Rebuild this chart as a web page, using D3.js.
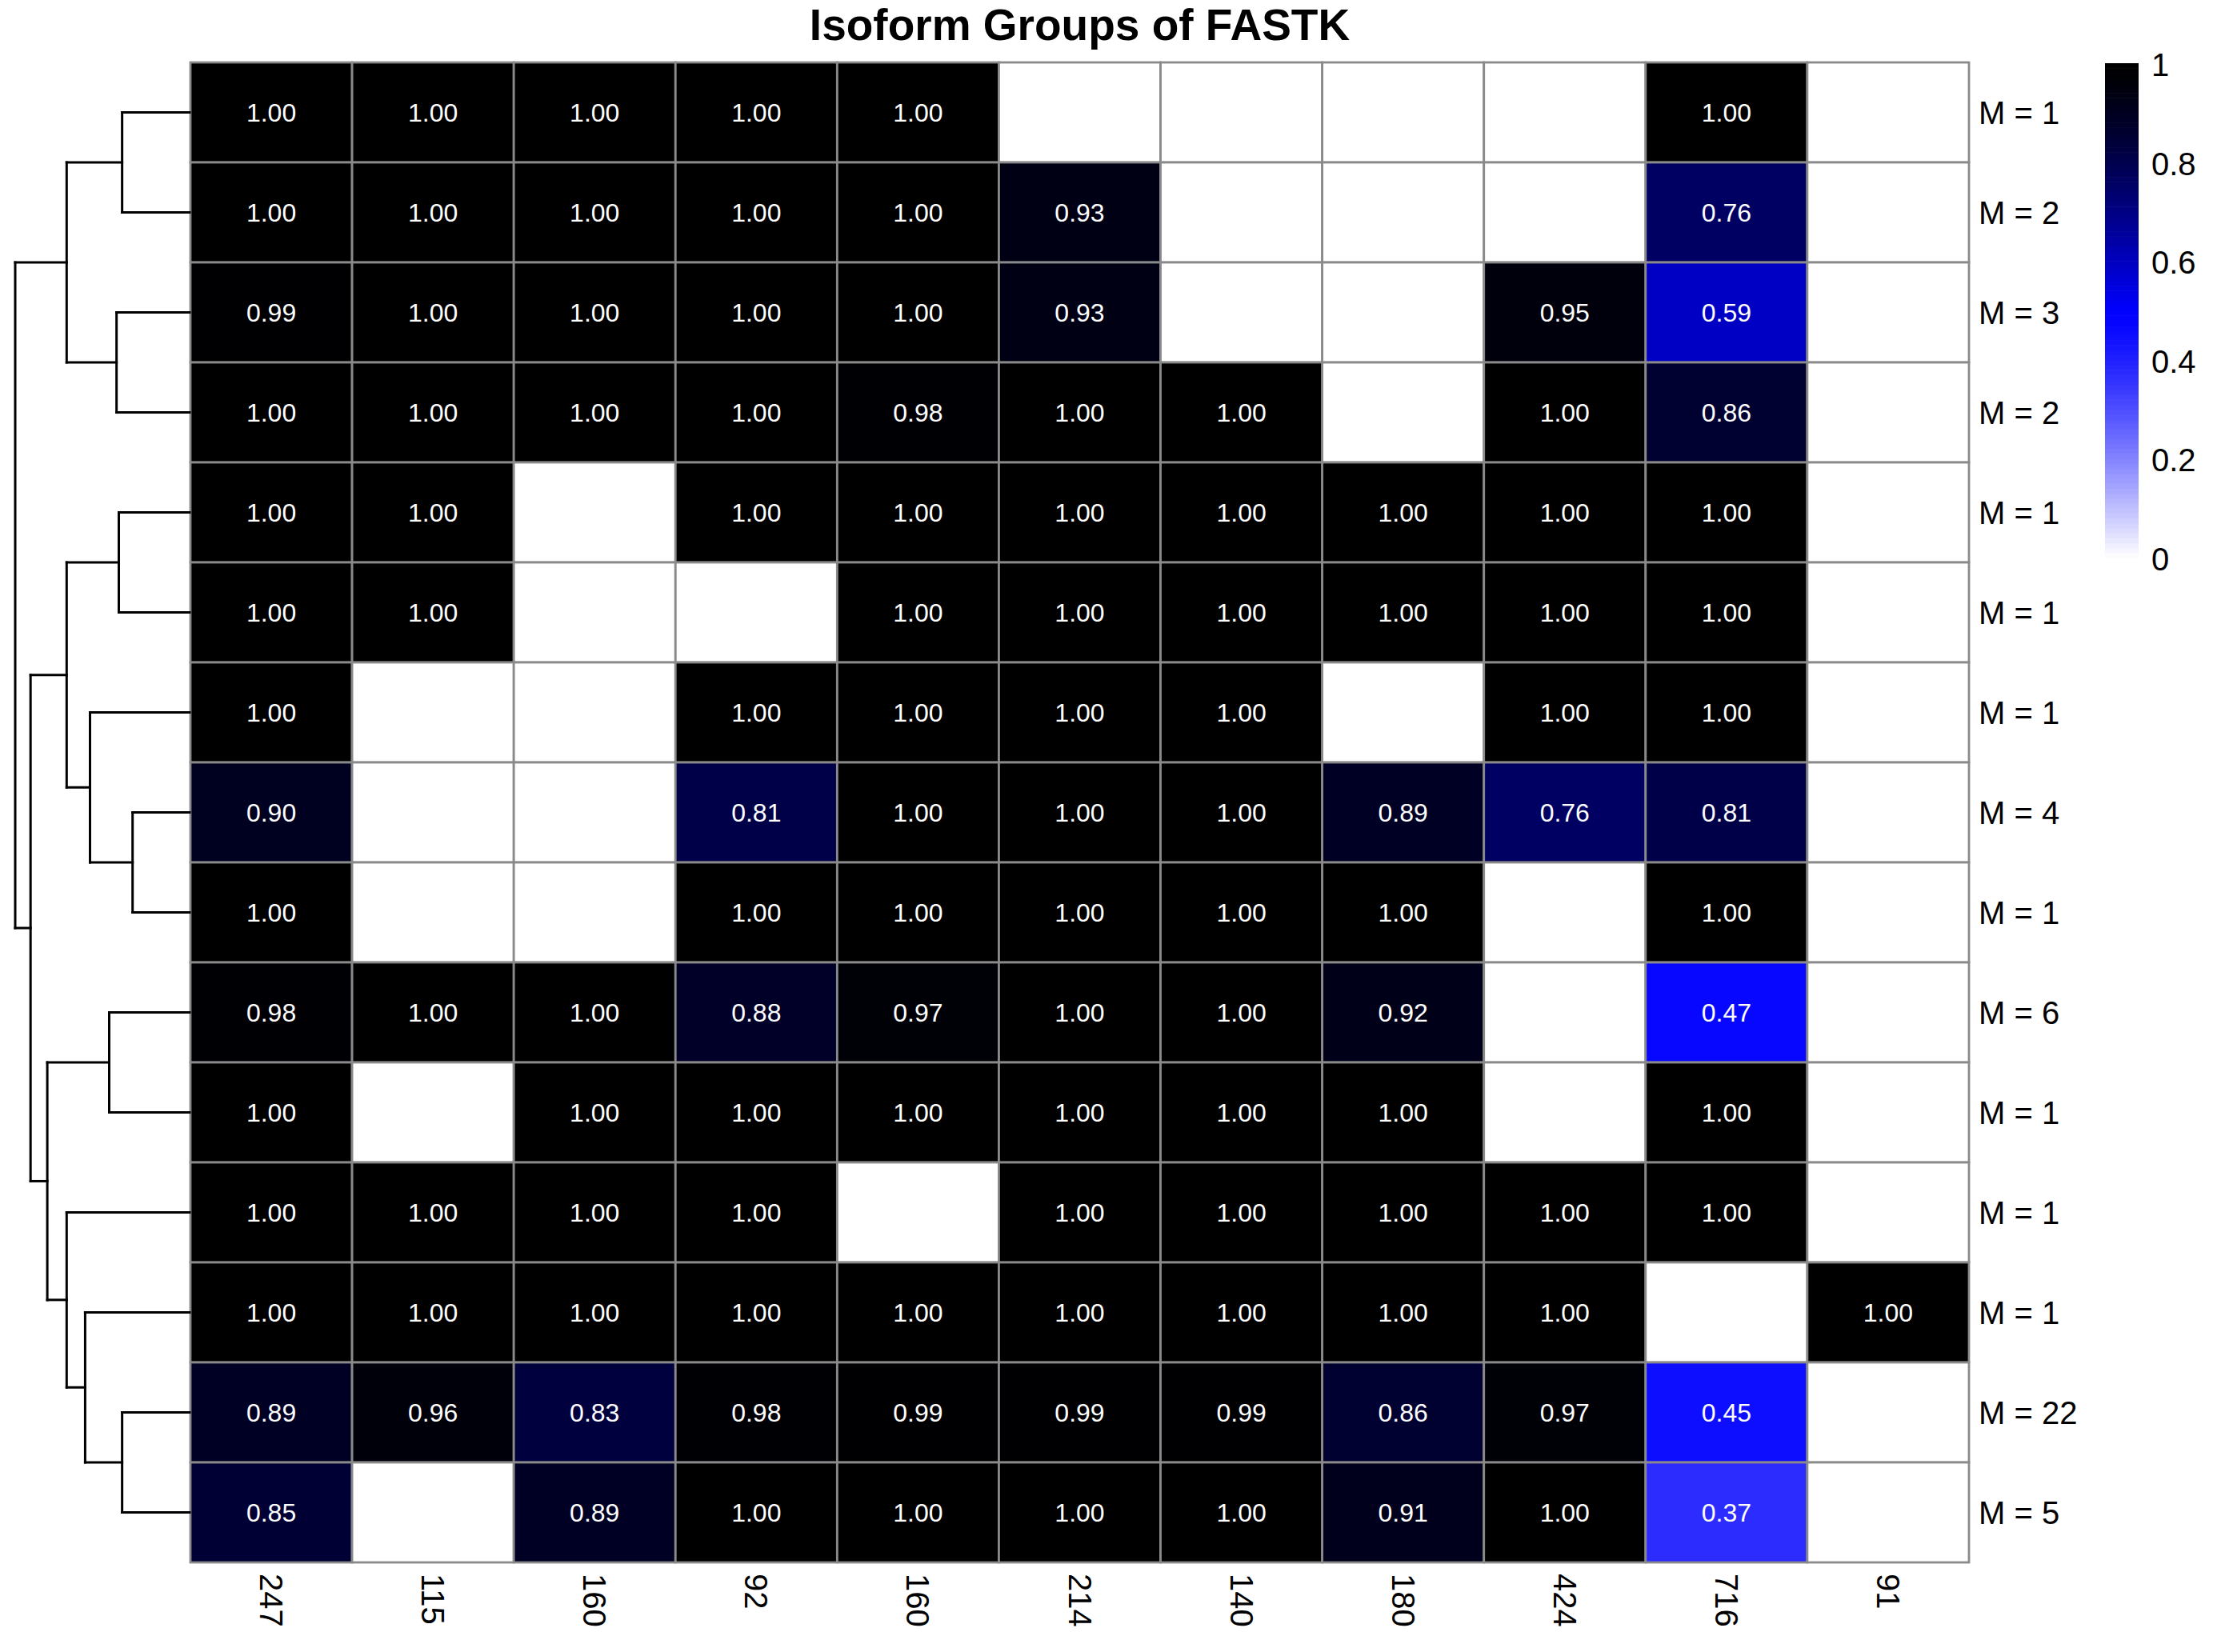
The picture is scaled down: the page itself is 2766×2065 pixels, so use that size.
<!DOCTYPE html>
<html>
<head>
<meta charset="utf-8">
<script src="https://cdn.jsdelivr.net/npm/d3@7"></script>
<style>
  html, body { margin: 0; padding: 0; background: #ffffff; }
  svg { display: block; }
  text { font-family: "Liberation Sans", Arial, Helvetica, sans-serif; }
</style>
</head>
<body>
<svg id="chart" width="2766" height="2065"></svg>
<script>
// ---------------- DATA ----------------
const title = "Isoform Groups of FASTK";
const colLabels = ["247", "115", "160", "92", "160", "214", "140", "180", "424", "716", "91"];
const rowLabels = ["M = 1", "M = 2", "M = 3", "M = 2", "M = 1", "M = 1", "M = 1", "M = 4",
                   "M = 1", "M = 6", "M = 1", "M = 1", "M = 1", "M = 22", "M = 5"];
// null = empty (white) cell
const values = [
  [1.00, 1.00, 1.00, 1.00, 1.00, null, null, null, null, 1.00, null],
  [1.00, 1.00, 1.00, 1.00, 1.00, 0.93, null, null, null, 0.76, null],
  [0.99, 1.00, 1.00, 1.00, 1.00, 0.93, null, null, 0.95, 0.59, null],
  [1.00, 1.00, 1.00, 1.00, 0.98, 1.00, 1.00, null, 1.00, 0.86, null],
  [1.00, 1.00, null, 1.00, 1.00, 1.00, 1.00, 1.00, 1.00, 1.00, null],
  [1.00, 1.00, null, null, 1.00, 1.00, 1.00, 1.00, 1.00, 1.00, null],
  [1.00, null, null, 1.00, 1.00, 1.00, 1.00, null, 1.00, 1.00, null],
  [0.90, null, null, 0.81, 1.00, 1.00, 1.00, 0.89, 0.76, 0.81, null],
  [1.00, null, null, 1.00, 1.00, 1.00, 1.00, 1.00, null, 1.00, null],
  [0.98, 1.00, 1.00, 0.88, 0.97, 1.00, 1.00, 0.92, null, 0.47, null],
  [1.00, null, 1.00, 1.00, 1.00, 1.00, 1.00, 1.00, null, 1.00, null],
  [1.00, 1.00, 1.00, 1.00, null, 1.00, 1.00, 1.00, 1.00, 1.00, null],
  [1.00, 1.00, 1.00, 1.00, 1.00, 1.00, 1.00, 1.00, 1.00, null, 1.00],
  [0.89, 0.96, 0.83, 0.98, 0.99, 0.99, 0.99, 0.86, 0.97, 0.45, null],
  [0.85, null, 0.89, 1.00, 1.00, 1.00, 1.00, 0.91, 1.00, 0.37, null]
];
// row dendrogram merges (hclust style: negative = leaf row number, positive = earlier merge)
const merges = [
  [-1, -2, 0.387],
  [-3, -4, 0.419],
  [1, 2, 0.705],
  [-5, -6, 0.406],
  [-8, -9, 0.327],
  [-7, 5, 0.571],
  [4, 6, 0.705],
  [-10, -11, 0.461],
  [-14, -15, 0.387],
  [-13, 9, 0.599],
  [-12, 10, 0.705],
  [8, 11, 0.816],
  [7, 12, 0.912],
  [3, 13, 1.000]
];
const legendTicks = [0, 0.2, 0.4, 0.6, 0.8, 1];

// ---------------- LAYOUT ----------------
const svg = d3.select("#chart");
svg.append("rect").attr("width", 2766).attr("height", 2065).attr("fill", "#ffffff");

const hm = { left: 238, right: 2461, top: 78, bottom: 1953 };

const x = d3.scaleBand().domain(d3.range(colLabels.length)).range([hm.left, hm.right]).padding(0);
const y = d3.scaleBand().domain(d3.range(rowLabels.length)).range([hm.top, hm.bottom]).padding(0);

const color = d3.scaleLinear()
  .domain([0, 0.5, 1])
  .range(["#ffffff", "#0000ff", "#000000"])
  .interpolate(d3.interpolateRgb.gamma(0.77))
  .clamp(true);

// title
svg.append("text")
  .attr("x", (hm.left + hm.right) / 2)
  .attr("y", 50)
  .attr("text-anchor", "middle")
  .attr("font-size", 55)
  .attr("font-weight", "bold")
  .attr("fill", "#000")
  .text(title);

// cells
const cells = [];
values.forEach((row, i) => row.forEach((v, j) => cells.push({ i, j, v })));

const gCells = svg.append("g");
gCells.selectAll("rect")
  .data(cells)
  .join("rect")
  .attr("x", d => x(d.j))
  .attr("y", d => y(d.i))
  .attr("width", x.bandwidth())
  .attr("height", y.bandwidth())
  .attr("fill", d => d.v === null ? "#ffffff" : color(d.v))
  .attr("stroke", "#8a8a8a")
  .attr("stroke-width", 2.8);

gCells.selectAll("text")
  .data(cells.filter(d => d.v !== null))
  .join("text")
  .attr("x", d => x(d.j) + x.bandwidth() / 2)
  .attr("y", d => y(d.i) + y.bandwidth() / 2)
  .attr("text-anchor", "middle")
  .attr("dominant-baseline", "central")
  .attr("font-size", 32)
  .attr("fill", "#ffffff")
  .text(d => d3.format(".2f")(d.v));

// row labels
svg.append("g").selectAll("text")
  .data(rowLabels)
  .join("text")
  .attr("x", hm.right + 12)
  .attr("y", (d, i) => y(i) + y.bandwidth() / 2)
  .attr("dominant-baseline", "central")
  .attr("font-size", 40)
  .attr("fill", "#000")
  .text(d => d);

// column labels (rotated, reading downward)
svg.append("g").selectAll("text")
  .data(colLabels)
  .join("text")
  .attr("transform", (d, j) => `translate(${x(j) + x.bandwidth() / 2},${hm.bottom + 14}) rotate(90)`)
  .attr("dominant-baseline", "central")
  .attr("font-size", 40)
  .attr("fill", "#000")
  .text(d => d);

// ---------------- DENDROGRAM ----------------
const hx = d3.scaleLinear().domain([0, 1]).range([237, 19]);
const nodePos = []; // index by merge number (1-based)
function childInfo(c) {
  if (c < 0) {
    const i = -c - 1;
    return { y: y(i) + y.bandwidth() / 2, h: 0 };
  }
  return nodePos[c];
}
const segs = [];
merges.forEach((m, k) => {
  const a = childInfo(m[0]);
  const b = childInfo(m[1]);
  const h = m[2];
  segs.push([hx(h), a.y, hx(h), b.y]);
  segs.push([hx(h), a.y, hx(a.h), a.y]);
  segs.push([hx(h), b.y, hx(b.h), b.y]);
  nodePos[k + 1] = { y: (a.y + b.y) / 2, h };
});
svg.append("g").selectAll("line")
  .data(segs)
  .join("line")
  .attr("x1", d => d[0]).attr("y1", d => d[1])
  .attr("x2", d => d[2]).attr("y2", d => d[3])
  .attr("stroke", "#000")
  .attr("stroke-width", 3)
  .attr("stroke-linecap", "square");

// ---------------- LEGEND ----------------
const lg = { x: 2631, w: 42, top: 79, bottom: 697 };
const ly = d3.scaleLinear().domain([0, 1]).range([lg.bottom, lg.top]);
const nStripes = 100;
const stripes = d3.range(nStripes).map(k => k / nStripes);
svg.append("g").selectAll("rect")
  .data(stripes)
  .join("rect")
  .attr("x", lg.x)
  .attr("y", d => ly(d + 1 / nStripes))
  .attr("width", lg.w)
  .attr("height", (lg.bottom - lg.top) / nStripes + 0.6)
  .attr("fill", d => color(d + 0.5 / nStripes));

svg.append("g").selectAll("text")
  .data(legendTicks)
  .join("text")
  .attr("x", lg.x + lg.w + 16)
  .attr("y", d => ly(d) + 2)
  .attr("dominant-baseline", "central")
  .attr("font-size", 40)
  .attr("fill", "#000")
  .text(d => d3.format("~g")(d));
</script>
</body>
</html>
